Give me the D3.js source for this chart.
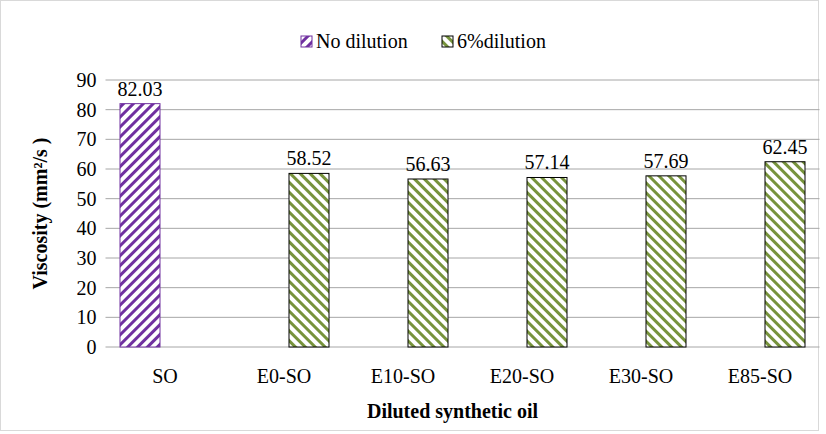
<!DOCTYPE html>
<html><head><meta charset="utf-8">
<script src="https://cdn.jsdelivr.net/npm/d3@7"></script>
<style>
body{margin:0;background:#fff}
</style></head><body>
<svg id="chart" width="826" height="434"></svg>
<script>
const categories = ['SO', 'E0-SO', 'E10-SO', 'E20-SO', 'E30-SO', 'E85-SO']
const seriesNames = ['No dilution', '6%dilution']
const noDilution = [82.03, null, null, null, null, null]
const dilution6 = [null, 58.52, 56.63, 57.14, 57.69, 62.45]
const yTicks = [0, 10, 20, 30, 40, 50, 60, 70, 80, 90]
const colors = ['#7030a0', '#77933c']
const FONT = 'Liberation Serif'

const svg = d3.select('#chart').attr('font-family', FONT)
const margin = {left: 105.5, right: 6.5, top: 80, bottom: 87}
const W = 826, H = 434
const iw = W - margin.left - margin.right
const ih = H - margin.top - margin.bottom

// outer frame
svg.append('rect').attr('x', 0.5).attr('y', 0.5).attr('width', W - 8).attr('height', H - 4)
  .attr('fill', 'none').attr('stroke', '#d9d9d9')

const defs = svg.append('defs')
const mkPattern = (id, color, dir) => {
  const p = defs.append('pattern').attr('id', id).attr('patternUnits', 'userSpaceOnUse')
    .attr('width', 7).attr('height', 7)
    .attr('patternTransform', `rotate(${dir > 0 ? 45 : -45})`)
  p.append('rect').attr('width', 7).attr('height', 7).attr('fill', '#fff')
  p.append('rect').attr('width', 3).attr('height', 7).attr('fill', color)
}
mkPattern('pat0', colors[0], 1)
mkPattern('pat1', colors[1], -1)

const g = svg.append('g').attr('transform', `translate(${margin.left},${margin.top})`)
const x = d3.scaleBand().domain(categories).range([0, iw])
const y = d3.scaleLinear().domain([0, 90]).range([ih, 0])

g.selectAll('.grid').data(yTicks).join('line')
  .attr('x1', 0).attr('x2', iw).attr('y1', d => y(d)).attr('y2', d => y(d))
  .attr('stroke', '#a6a6a6').attr('stroke-width', 1)

g.selectAll('.ylab').data(yTicks).join('text')
  .attr('x', -9).attr('y', d => y(d)).attr('dy', '0.35em').attr('text-anchor', 'end')
  .attr('font-family', FONT).attr('font-size', 20).text(d => d)

g.selectAll('.xlab').data(categories).join('text')
  .attr('x', d => x(d) + x.bandwidth() / 2).attr('y', ih + 36).attr('text-anchor', 'middle')
  .attr('font-family', FONT).attr('font-size', 20).text(d => d)

const barW = 40
const series = [noDilution, dilution6]
series.forEach((vals, si) => {
  const data = categories.map((c, i) => ({c, v: vals[i]})).filter(d => d.v != null)
  const off = si === 0 ? -45 : 5
  const bx = d => x(d.c) + x.bandwidth() / 2 + off
  g.selectAll(`.bar${si}`).data(data).join('rect')
    .attr('x', bx).attr('y', d => y(d.v)).attr('width', barW).attr('height', d => ih - y(d.v))
    .attr('fill', `url(#pat${si})`)
    .attr('stroke', si === 0 ? colors[0] : '#000').attr('stroke-width', 1)
  g.selectAll(`.val${si}`).data(data).join('text')
    .attr('x', d => bx(d) + barW / 2).attr('y', d => y(d.v) - 8).attr('text-anchor', 'middle')
    .attr('font-family', FONT).attr('font-size', 20).text(d => d.v.toFixed(2))
})

// y axis title
svg.append('text').attr('transform', `translate(47,${margin.top + ih / 2}) rotate(-90)`)
  .attr('text-anchor', 'middle').attr('font-size', 20).attr('font-weight', 'bold')
  .attr('font-family', FONT).text('Viscosity (mm²/s )')

svg.append('text').attr('x', margin.left + iw / 2 - 10).attr('y', 418).attr('text-anchor', 'middle')
  .attr('font-family', FONT).attr('font-size', 20).attr('font-weight', 'bold').text('Diluted synthetic oil')

// legend
const leg = svg.append('g').attr('transform', 'translate(301,41)')
const lx = [0, 141]
seriesNames.forEach((n, i) => {
  leg.append('rect').attr('x', lx[i]).attr('y', -5).attr('width', 11).attr('height', 11)
    .attr('fill', `url(#pat${i})`).attr('stroke', i === 0 ? colors[0] : '#000')
  leg.append('text').attr('x', lx[i] + 15).attr('y', 0).attr('dy', '0.35em')
    .attr('font-family', FONT).attr('font-size', 20).text(n)
})
</script></body></html>
